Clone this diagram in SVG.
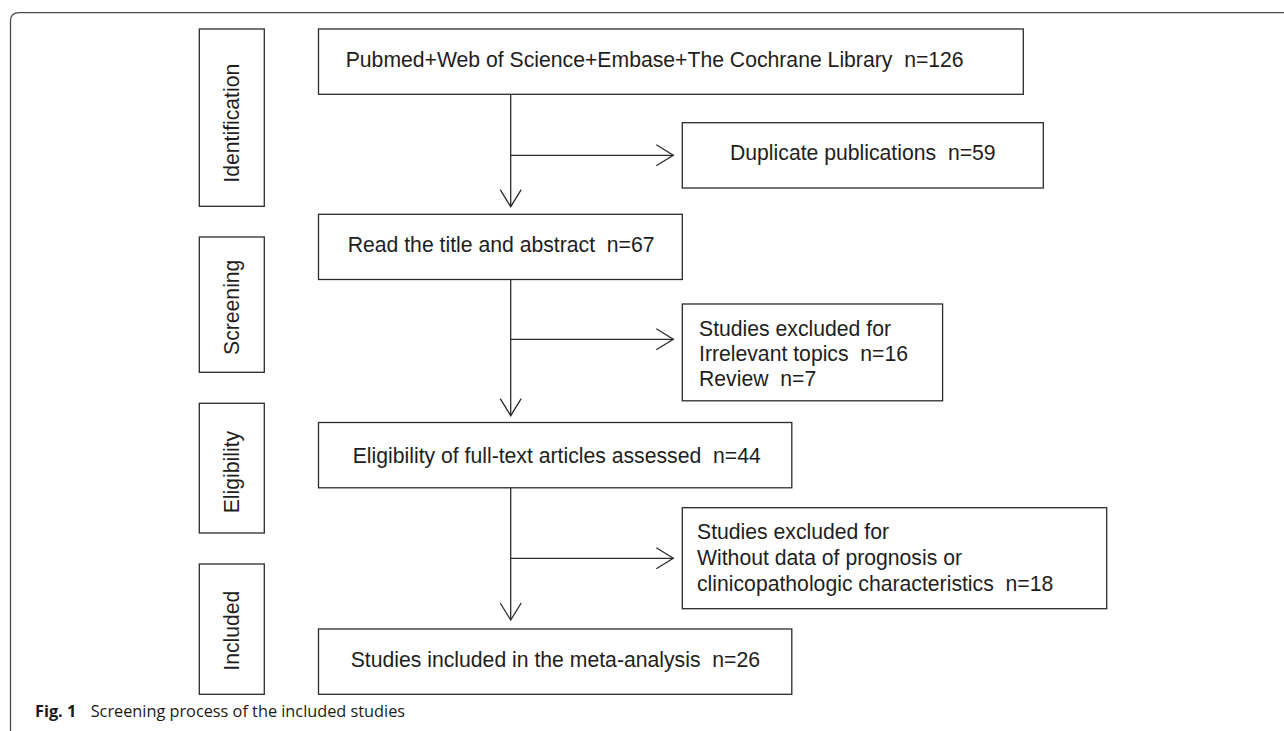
<svg xmlns="http://www.w3.org/2000/svg" width="1284" height="731" viewBox="0 0 1284 731">
<style>
.box{fill:#fff;stroke:#2b2b2b;stroke-width:1.3}
.t{font-family:"Liberation Sans",Arial,sans-serif;font-size:21.2px;fill:#1e1e1e;white-space:pre}
.c{fill:none;stroke:#2b2b2b;stroke-width:1.3}
.cap{font-family:"Open Sans","Noto Sans",sans-serif;font-size:16.3px;fill:#1a1a1a}
</style>
<defs>
<marker id="ah" markerUnits="userSpaceOnUse" markerWidth="40" markerHeight="40" refX="0" refY="0" orient="auto" overflow="visible">
<path d="M-17,-10.5 L0,0 L-17,10.5" fill="none" stroke="#2b2b2b" stroke-width="1.3"/>
</marker>
</defs>
<rect width="1284" height="731" fill="#fff"/>
<path d="M10.5,731 V21 Q10.5,12.7 19,12.7 H1284" fill="none" stroke="#4a4a4a" stroke-width="1.3"/>

<g id="stage-identification">
<rect class="box" x="199.3" y="29" width="65" height="177.3"/>
<text class="t" transform="translate(239.3,182.7) rotate(-90)">Identification</text>
</g>
<g id="stage-screening">
<rect class="box" x="199.3" y="237" width="65" height="135.3"/>
<text class="t" transform="translate(239.3,355) rotate(-90)">Screening</text>
</g>
<g id="stage-eligibility">
<rect class="box" x="199.3" y="403.3" width="65" height="129.7"/>
<text class="t" transform="translate(239.3,513.3) rotate(-90)">Eligibility</text>
</g>
<g id="stage-included">
<rect class="box" x="199.3" y="564" width="65" height="130.3"/>
<text class="t" transform="translate(239.3,670.7) rotate(-90)">Included</text>
</g>

<g id="n-search">
<rect class="box" x="318.5" y="29" width="704.8" height="65.3"/>
<text class="t" x="345.7" y="67">Pubmed+Web of Science+Embase+The Cochrane Library  n=126</text>
</g>
<g id="n-duplicate">
<rect class="box" x="682.3" y="122.7" width="361" height="65.3"/>
<text class="t" x="730" y="160">Duplicate publications  n=59</text>
</g>
<g id="n-read">
<rect class="box" x="318.5" y="214.3" width="363.8" height="65.2"/>
<text class="t" x="347.7" y="251.7">Read the title and abstract  n=67</text>
</g>
<g id="n-excluded1">
<rect class="box" x="682.3" y="304" width="260.3" height="96.8"/>
<text class="t" x="699" y="336">Studies excluded for</text>
<text class="t" x="699" y="360.7">Irrelevant topics  n=16</text>
<text class="t" x="699" y="385.7">Review  n=7</text>
</g>
<g id="n-eligibility">
<rect class="box" x="318.5" y="422.5" width="473.3" height="65.3"/>
<text class="t" x="352.7" y="462.7">Eligibility of full-text articles assessed  n=44</text>
</g>
<g id="n-excluded2">
<rect class="box" x="682.3" y="507.7" width="424.4" height="101"/>
<text class="t" x="697" y="539.3">Studies excluded for</text>
<text class="t" x="697" y="565.3">Without data of prognosis or</text>
<text class="t" x="697" y="591">clinicopathologic characteristics  n=18</text>
</g>
<g id="n-included">
<rect class="box" x="318.5" y="629" width="473.3" height="65.3"/>
<text class="t" x="350.7" y="666.7">Studies included in the meta-analysis  n=26</text>
</g>

<g id="connectors">
<path class="c" d="M510.7,94.3 V206.7" marker-end="url(#ah)"/>
<path class="c" d="M510.7,155.3 H673.3" marker-end="url(#ah)"/>
<path class="c" d="M510.7,279.5 V415.7" marker-end="url(#ah)"/>
<path class="c" d="M510.7,339.3 H673.3" marker-end="url(#ah)"/>
<path class="c" d="M510.7,487.8 V620" marker-end="url(#ah)"/>
<path class="c" d="M510.7,558.3 H673.3" marker-end="url(#ah)"/>
</g>

<g id="caption">
<text class="cap" x="35" y="716.7"><tspan font-weight="bold">Fig. 1</tspan></text>
<text class="cap" x="90.7" y="716.7">Screening process of the included studies</text>
</g>
</svg>
